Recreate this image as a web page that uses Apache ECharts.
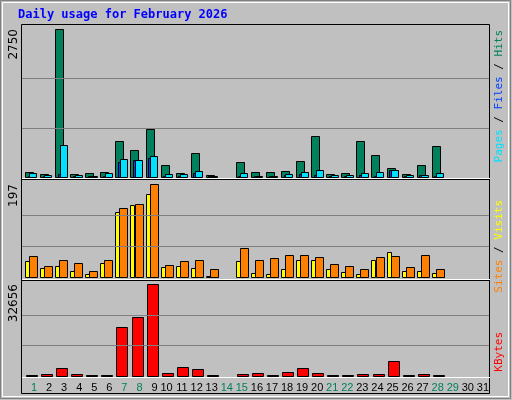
<!DOCTYPE html>
<html><head><meta charset="utf-8">
<script src="https://cdn.jsdelivr.net/npm/echarts@6/dist/echarts.min.js"></script>
<style>html,body{margin:0;padding:0;background:#c0c0c0}#c{width:512px;height:400px}</style>
</head><body><div id="c"></div>
<script>
const days = Array.from({length:31},(_,i)=>String(i+1));
const weekendDays = [1,7,8,14,15,21,22,28,29];
const hits  = [100,62,2750,62,81,100,678,510,902,230,81,454,44,0,286,100,100,118,305,771,62,81,678,417,174,62,230,585,0,0,0];
const files = [25,20,62,20,10,25,286,323,361,25,25,81,10,0,25,10,10,44,62,44,25,25,44,25,137,25,44,25,0,0,0];
const pages = [81,44,603,44,19,81,342,323,398,62,62,118,25,0,81,25,25,62,100,137,44,44,81,100,137,44,44,81,0,0,0];
const visits= [45,24,35,30,13,37,147,154,197,26,33,35,18,0,62,37,41,47,47,43,28,24,16,43,45,22,47,18,0,0,0];
const sites = [33,20,24,13,7,30,137,152,175,22,24,20,3,0,33,9,7,18,37,35,16,11,7,37,54,13,13,9,0,0,0];
const kbytes= [400,834,2980,834,400,400,17281,20857,32656,1192,3337,2622,400,0,834,1192,400,1549,2980,1192,400,400,834,834,5482,400,834,400,0,0,0];
const maxLabels = ['2750','197','32656'];
const tickDays = [''].concat(days);

function barSeries(data, grid, color, f0, f1, name){
  return {type:'custom', name, xAxisIndex:grid, yAxisIndex:grid,
    data: data.map((v,i)=>[i,v]),
    renderItem:(params, api)=>{
      const v = api.value(1); if(!v) return null;
      const idx = api.value(0);
      const bw = api.size([1,0])[0];
      const base = api.coord([idx,0]);
      const top = api.coord([idx,v]);
      const x0 = base[0]-bw/2;
      return {type:'rect', shape:{x:Math.round(x0+bw*f0)+0.5, y:Math.round(top[1])+0.5, width:Math.max(1,Math.round(bw*(f1-f0))), height:Math.round(base[1]-top[1])},
        style:{fill:color, stroke:'#000', lineWidth:1}};
    }};
}
function gridLines(grid, max){
  return {type:'line', xAxisIndex:grid, yAxisIndex:grid, data:[], silent:true,
    markLine:{silent:true, symbol:'none', label:{show:false}, lineStyle:{color:'#808080', type:'solid', width:1},
      data:[{yAxis:max/3},{yAxis:max*2/3}]}};
}
const ch = echarts.init(document.getElementById('c'));
const catAxis = (g)=>({type:'category', gridIndex:g, data:days, boundaryGap:true, axisLine:{show:false}, axisTick:{show:false}, axisLabel:{show:false}});
const valAxis = (g,max)=>({type:'value', gridIndex:g, min:0, max, splitLine:{show:false}, axisLine:{show:false}, axisTick:{show:false}, axisLabel:{show:false}});
ch.setOption({
  animation:false, backgroundColor:'#c0c0c0',
  grid:[{left:22,width:467,top:25,height:152},{left:22,width:467,top:180,height:97},{left:22,width:467,top:281,height:95}],
  xAxis:[catAxis(0),catAxis(1),catAxis(2),
    {type:'category', gridIndex:2, data:tickDays, boundaryGap:false, position:'bottom', axisLine:{show:false}, axisTick:{show:false},
     axisLabel:{interval:0, align:'right', margin:6, fontSize:11, fontFamily:'Liberation Sans',
       color:(v)=> weekendDays.includes(+v)?'#00805c':'#000'}}],
  yAxis:[valAxis(0,2830),valAxis(1,205.5),valAxis(2,33835)],
  graphic:[
    {type:'rect', shape:{x:0.5,y:0.5,width:510,height:398}, style:{fill:'none', stroke:'#808080', lineWidth:1}, z:-1},
    {type:'rect', shape:{x:2.5,y:2.5,width:506,height:394}, style:{fill:'none', stroke:'#fff', lineWidth:1}, z:-1},
    {type:'rect', shape:{x:21.5,y:24.5,width:468,height:369}, style:{fill:'none', stroke:'#000', lineWidth:1}},
    {type:'line', shape:{x1:22,y1:178.5,x2:490,y2:178.5}, style:{stroke:'#fff', lineWidth:1}},
    {type:'line', shape:{x1:22,y1:179.5,x2:490,y2:179.5}, style:{stroke:'#000', lineWidth:1}},
    {type:'line', shape:{x1:22,y1:279.5,x2:490,y2:279.5}, style:{stroke:'#fff', lineWidth:1}},
    {type:'line', shape:{x1:22,y1:280.5,x2:490,y2:280.5}, style:{stroke:'#000', lineWidth:1}},
    {type:'line', shape:{x1:22,y1:377.5,x2:490,y2:377.5}, style:{stroke:'#fff', lineWidth:1}},
    {type:'text', x:18, y:9, style:{text:'Daily usage for February 2026', fill:'#0000ff', font:'bold 12px "DejaVu Sans Mono"'}},
    {type:'text', x:14, y:29, rotation:Math.PI/2, style:{text:maxLabels[0], fill:'#000', font:'12px "DejaVu Sans"', align:'right', verticalAlign:'middle'}},
    {type:'text', x:14, y:184, rotation:Math.PI/2, style:{text:maxLabels[1], fill:'#000', font:'12px "DejaVu Sans"', align:'right', verticalAlign:'middle'}},
    {type:'text', x:14, y:284, rotation:Math.PI/2, style:{text:maxLabels[2], fill:'#000', font:'12px "DejaVu Sans"', align:'right', verticalAlign:'middle'}},
    {type:'text', x:499, y:30, rotation:Math.PI/2, style:{text:'{c|Pages}{k| / }{b|Files}{k| / }{g|Hits}', align:'right', verticalAlign:'middle', font:'11px "DejaVu Sans Mono"',
      rich:{c:{fill:'#00e0ff',font:'11px "DejaVu Sans Mono"'},b:{fill:'#0040ff',font:'11px "DejaVu Sans Mono"'},g:{fill:'#00805c',font:'11px "DejaVu Sans Mono"'},k:{fill:'#000',font:'11px "DejaVu Sans Mono"'}}}},
    {type:'text', x:499, y:200, rotation:Math.PI/2, style:{text:'{o|Sites}{k| / }{y|Visits}', align:'right', verticalAlign:'middle', font:'11px "DejaVu Sans Mono"',
      rich:{o:{fill:'#ff8000',font:'11px "DejaVu Sans Mono"'},y:{fill:'#ffff00',font:'11px "DejaVu Sans Mono"'},k:{fill:'#000',font:'11px "DejaVu Sans Mono"'}}}},
    {type:'text', x:499, y:332, rotation:Math.PI/2, style:{text:'KBytes', fill:'#ff0000', align:'right', verticalAlign:'middle', font:'11px "DejaVu Sans Mono"'}}
  ],
  series:[
    gridLines(0,2750), gridLines(1,197), gridLines(2,32656),
    barSeries(hits,0,'#00805c',0.2,0.71,'Hits'),
    barSeries(files,0,'#0040ff',0.37,0.5,'Files'),
    barSeries(pages,0,'#00e0ff',0.49,0.98,'Pages'),
    barSeries(sites,1,'#ffff00',0.2,0.47,'Sites'),
    barSeries(visits,1,'#ff8000',0.47,0.98,'Visits'),
    barSeries(kbytes,2,'#ff0000',0.27,0.98,'KBytes')
  ]
});
</script></body></html>
